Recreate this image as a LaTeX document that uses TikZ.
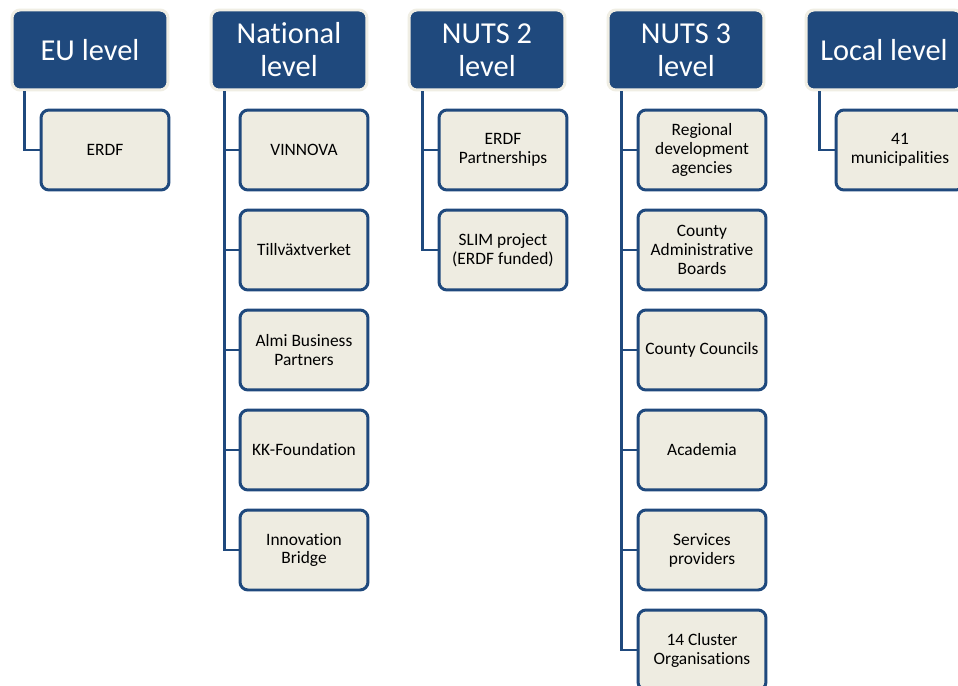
\documentclass[tikz,border=0pt]{standalone}
\usepackage{fontspec}
\setmainfont{Carlito}[Ligatures=NoCommon]
\usetikzlibrary{calc}
\definecolor{levelblue}{HTML}{1F497D}
\definecolor{boxfill}{HTML}{EEECE1}
\definecolor{rimcol}{HTML}{F0EEE4}
\tikzset{
	level/.style={rectangle, rounded corners=0.16cm, fill=levelblue, draw=rimcol, line width=1.7pt, text=white,
		minimum width=3.12cm, minimum height=1.6cm, align=center, inner sep=0pt,
		font=\fontsize{17.3}{18.8}\selectfont},
	unit/.style={rectangle, rounded corners=0.16cm, fill=boxfill, draw=levelblue, line width=1.7pt, text=black,
		minimum width=2.56cm, minimum height=1.6cm, align=center, inner sep=0pt,
		font=\fontsize{9.9}{10.8}\selectfont},
	conn/.style={draw=levelblue, line width=1.7pt}
}
\begin{document}
\begin{tikzpicture}[x=0.02cm, y=-0.02cm]
		%%%%% START %%%%%
		\useasboundingbox[fill=white] (0, 0) rectangle (958, 686);
		
		\node[level] (eu) at (90, 50) {EU level};
		\node[level] (national) at (289, 50) {National\\level};
		\node[level] (nutsii) at (487, 50) {NUTS 2\\level};
		\node[level] (nutsiii) at (686, 50) {NUTS 3\\level};
		\node[level] (local) at (884, 50) {Local level};
		
		\node[unit] (erdf) at (105, 150) {ERDF};
		
		\node[unit] (vinnova) at (304, 150) {VINNOVA};
		\node[unit] (tillvaxt) at (304, 250) {Tillväxtverket};
		\node[unit] (almi) at (304, 350) {Almi Business\\Partners};
		\node[unit] (kk) at (304, 450) {KK-Foundation};
		\node[unit] (innov) at (304, 550) {Innovation\\Bridge};
		
		\node[unit] (erdfpart) at (503, 150) {ERDF\\Partnerships};
		\node[unit] (slim) at (503, 250) {SLIM project\\(ERDF funded)};
		
		\node[unit] (rda) at (702, 150) {Regional\\development\\agencies};
		\node[unit] (cab) at (702, 250) {County\\Administrative\\Boards};
		\node[unit] (cc) at (702, 350) {County Councils};
		\node[unit] (acad) at (702, 450) {Academia};
		\node[unit] (serv) at (702, 550) {Services\\providers};
		\node[unit] (cluster) at (702, 650) {14 Cluster\\Organisations};
		
		\node[unit] (munic) at (900, 150) {41\\municipalities};
		
		% connectors
		\draw[conn] ($(eu.south west)+(14, 0)$) |- (erdf.west);
		
		\draw[conn] ($(national.south west)+(15, 0)$) |- (vinnova.west);
		\draw[conn] ($(national.south west)+(15, 0)$) |- (tillvaxt.west);
		\draw[conn] ($(national.south west)+(15, 0)$) |- (almi.west);
		\draw[conn] ($(national.south west)+(15, 0)$) |- (kk.west);
		\draw[conn] ($(national.south west)+(15, 0)$) |- (innov.west);
		
		\draw[conn] ($(nutsii.south west)+(15, 0)$) |- (erdfpart.west);
		\draw[conn] ($(nutsii.south west)+(15, 0)$) |- (slim.west);
		
		\draw[conn] ($(nutsiii.south west)+(15, 0)$) |- (rda.west);
		\draw[conn] ($(nutsiii.south west)+(15, 0)$) |- (cab.west);
		\draw[conn] ($(nutsiii.south west)+(15, 0)$) |- (cc.west);
		\draw[conn] ($(nutsiii.south west)+(15, 0)$) |- (acad.west);
		\draw[conn] ($(nutsiii.south west)+(15, 0)$) |- (serv.west);
		\draw[conn] ($(nutsiii.south west)+(15, 0)$) |- (cluster.west);
		
		\draw[conn] ($(local.south west)+(15, 0)$) |- (munic.west);
		%%%%% END %%%%%
	\end{tikzpicture}
\end{document}
